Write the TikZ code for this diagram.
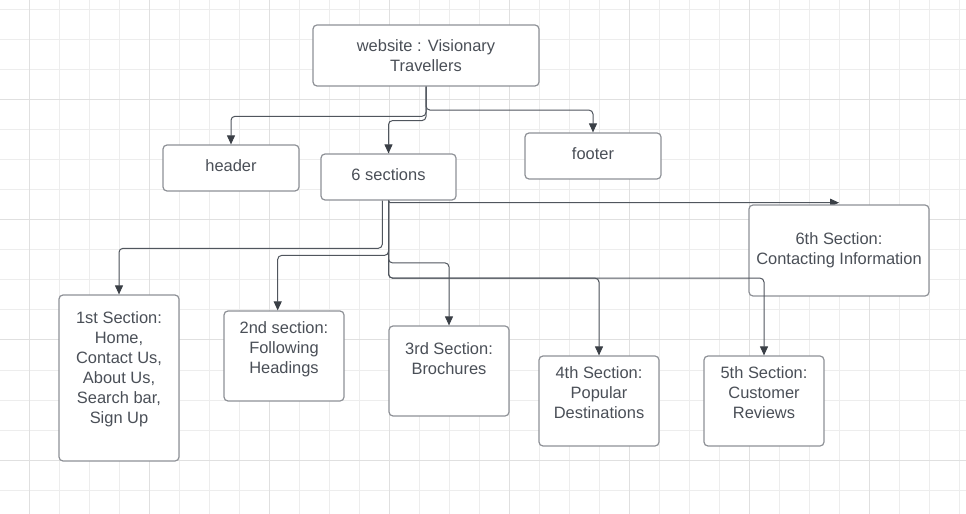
\documentclass[tikz,border=0pt]{standalone}
\usepackage{fontspec}
\setmainfont{Liberation Sans}
\usetikzlibrary{arrows.meta}
\definecolor{gridminor}{HTML}{EDEDED}
\definecolor{gridmajor}{HTML}{E0E0E0}
\definecolor{boxline}{HTML}{8E9197}
\definecolor{conncol}{HTML}{50565E}
\definecolor{tipcol}{HTML}{3A3F46}
\definecolor{txtcol}{HTML}{4A4F57}
\pgfdeclarelayer{gridlayer}
\pgfdeclarelayer{behind}
\pgfsetlayers{gridlayer,behind,main}
\begin{document}
\begin{tikzpicture}[x=1bp,y=-1bp,
  box/.style={draw=boxline, line width=1.2bp, fill=white, rounded corners=4bp, inner sep=0pt},
  txt/.style={text=txtcol, align=center, font=\fontsize{16.5}{20}\selectfont, inner sep=0pt},
  conn/.style={draw=conncol, line width=1bp, rounded corners=4bp, -{Triangle[length=9bp,width=8bp,color=tipcol]}}]
\useasboundingbox (0,0) rectangle (966,514);
\begin{pgfonlayer}{gridlayer}
\fill[white] (0,0) rectangle (966,514);
\foreach \i in {0,...,31} {\draw[gridminor, line width=1bp] (29+30*\i,0) -- (29+30*\i,514);}
\foreach \j in {0,...,16} {\draw[gridminor, line width=1bp] (0,10+30*\j) -- (966,10+30*\j);}
\foreach \x in {29,149,269,389,509,629,749,869} {\draw[gridmajor, line width=1bp] (\x,0) -- (\x,514);}
\foreach \y in {100,220,340,460} {\draw[gridmajor, line width=1bp] (0,\y) -- (966,\y);}
\end{pgfonlayer}

% boxes
\node[box,minimum width=226bp,minimum height=61bp] (web) at (426,55.5) {};
\node[box,minimum width=136bp,minimum height=46bp] (hdr) at (231,168) {};
\node[box,minimum width=135bp,minimum height=46bp] (sec) at (388.5,177) {};
\node[box,minimum width=136bp,minimum height=46bp] (ftr) at (593,156) {};
\node[box,minimum width=180bp,minimum height=91bp] (s6) at (839,250.5) {};
\node[box,minimum width=120bp,minimum height=166bp] (s1) at (119,378) {};
\node[box,minimum width=120bp,minimum height=90bp] (s2) at (284,356) {};
\node[box,minimum width=120bp,minimum height=90bp] (s3) at (449,371) {};
\node[box,minimum width=120bp,minimum height=90bp] (s4) at (599,401) {};
\node[box,minimum width=120bp,minimum height=90bp] (s5) at (764,401) {};

% texts
\node[txt] (webt) at (426,55.3) {website : Visionary\\Travellers};
\node[txt] (hdrt) at (231,166) {header};
\node[txt] (sect) at (388.5,174.7) {6 sections};
\node[txt] (ftrt) at (593,154) {footer};
\node[txt] (s6t) at (839,250.7) {6th Section:\\Contacting Information};
\node[txt] (s1t) at (119,369) {1st Section:\\Home,\\Contact Us,\\About Us,\\Search bar,\\Sign Up};
\node[txt] (s2t) at (284,349) {2nd section:\\Following\\Headings};
\node[txt] (s3t) at (449,359) {3rd Section:\\Brochures};
\node[txt] (s4t) at (599,392.3) {4th Section:\\Popular\\Destinations};
\node[txt] (s5t) at (764,392.3) {5th Section:\\Customer\\Reviews};

% connectors from website
\draw[conn] (web.south) -- ++(0,29.7) -| (hdr.north);
\draw[conn] (web.south) -- ++(0,34) -| (sec.north);
\draw[conn] (web.south) -- ++(0,23.5) -| (ftr.north);

% connectors from 6 sections
\draw[conn] ([xshift=-6.2bp]sec.south) -- ++(0,47.7) -| (s1.north);
\draw[conn] (sec.south) -- ++(0,54.8) -| ([xshift=-6.3bp]s2.north);
\draw[conn] (sec.south) -- ++(0,62.3) -| (s3.north);
\draw[conn] (sec.south) -- ++(0,77.5) -| (s4.north);
\draw[conn] (sec.south) -- ++(0,77.5) -| (s5.north);
\begin{pgfonlayer}{behind}
\draw[conn, rounded corners=1.5bp] (sec.south) |- ([yshift=1.7bp]s6.north);
\end{pgfonlayer}
\end{tikzpicture}
\end{document}
